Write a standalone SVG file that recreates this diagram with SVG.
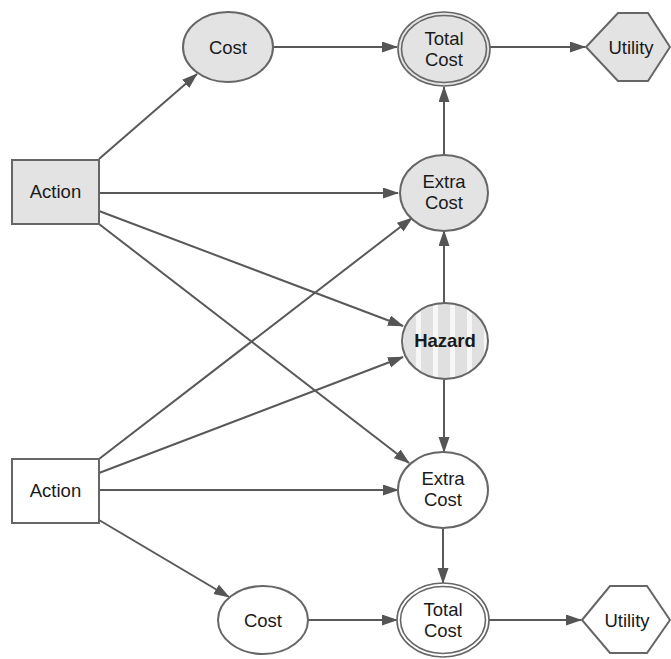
<svg xmlns="http://www.w3.org/2000/svg" width="671" height="659" viewBox="0 0 671 659">
  <defs>
    <marker id="arrow" markerUnits="userSpaceOnUse" markerWidth="17" markerHeight="12" refX="15" refY="5.5" orient="auto">
      <path d="M0,0 L16,5.5 L0,11 z" fill="#555555"/>
    </marker>
    <pattern id="stripes" patternUnits="userSpaceOnUse" x="404" y="0" width="17" height="10">
      <rect x="0" y="0" width="17" height="10" fill="#e0e0e0"/>
      <rect x="12" y="0" width="5" height="10" fill="#f7f7f7"/>
    </pattern>
    <style>
      .edge { stroke: #595959; stroke-width: 2; fill: none; marker-end: url(#arrow); }
      .shape { stroke: #666666; stroke-width: 2; }
      .thin { stroke: #666666; stroke-width: 1.6; }
      .filled { fill: #e3e3e3; }
      .plain { fill: #ffffff; }
      .label { font-family: "Liberation Sans", Arial, sans-serif; font-size: 18.5px; fill: #1a1a1a; text-anchor: middle; }
      .bold { font-weight: bold; }
    </style>
  </defs>
  <rect width="671" height="659" fill="#ffffff"/>

  <g id="connectors">
    <line class="edge" x1="99" y1="159" x2="197" y2="74"/>
    <line class="edge" x1="274" y1="47" x2="397" y2="47"/>
    <line class="edge" x1="490" y1="47" x2="585" y2="47"/>
    <line class="edge" x1="444" y1="155" x2="444" y2="87"/>
    <line class="edge" x1="99" y1="193" x2="398" y2="193"/>
    <line class="edge" x1="99" y1="211" x2="403" y2="326"/>
    <line class="edge" x1="99" y1="224" x2="409" y2="463"/>
    <line class="edge" x1="444" y1="303" x2="444" y2="231"/>
    <line class="edge" x1="444" y1="380" x2="444" y2="452"/>
    <line class="edge" x1="99" y1="459" x2="412" y2="218"/>
    <line class="edge" x1="99" y1="473" x2="403" y2="357"/>
    <line class="edge" x1="99" y1="490" x2="398" y2="490"/>
    <line class="edge" x1="99" y1="520" x2="229" y2="597"/>
    <line class="edge" x1="443" y1="528" x2="443" y2="583"/>
    <line class="edge" x1="308" y1="620" x2="397" y2="620"/>
    <line class="edge" x1="488" y1="620" x2="581" y2="620"/>
  </g>

  <g id="action-top">
    <rect class="shape filled" x="12" y="160" width="87" height="64"/>
    <text class="label" x="55.5" y="198">Action</text>
  </g>
  <g id="action-bottom">
    <rect class="shape plain" x="12" y="459" width="87" height="64"/>
    <text class="label" x="55.5" y="497">Action</text>
  </g>

  <g id="cost-top">
    <ellipse class="shape filled" cx="228" cy="47" rx="45" ry="35"/>
    <text class="label" x="228" y="54">Cost</text>
  </g>
  <g id="cost-bottom">
    <ellipse class="shape plain" cx="263" cy="620" rx="45" ry="34"/>
    <text class="label" x="263" y="627">Cost</text>
  </g>

  <g id="total-cost-top">
    <ellipse class="thin filled" cx="444" cy="49" rx="46" ry="37"/>
    <ellipse class="thin" fill="none" cx="444" cy="49" rx="42.5" ry="33.5"/>
    <text class="label" x="444" y="45">Total</text>
    <text class="label" x="444" y="66">Cost</text>
  </g>
  <g id="total-cost-bottom">
    <ellipse class="thin plain" cx="443" cy="620" rx="46" ry="37"/>
    <ellipse class="thin" fill="none" cx="443" cy="620" rx="42.5" ry="33.5"/>
    <text class="label" x="443" y="616">Total</text>
    <text class="label" x="443" y="637">Cost</text>
  </g>

  <g id="extra-cost-top">
    <ellipse class="shape filled" cx="444" cy="193" rx="44" ry="38"/>
    <text class="label" x="444" y="188">Extra</text>
    <text class="label" x="444" y="209">Cost</text>
  </g>
  <g id="extra-cost-bottom">
    <ellipse class="shape plain" cx="443" cy="490" rx="45" ry="38"/>
    <text class="label" x="443" y="485">Extra</text>
    <text class="label" x="443" y="506">Cost</text>
  </g>

  <g id="hazard">
    <ellipse class="shape" fill="url(#stripes)" cx="445" cy="341" rx="43" ry="38"/>
    <text class="label bold" x="445" y="347">Hazard</text>
  </g>

  <g id="utility-top">
    <polygon class="shape filled" points="586,47 618,13 648,13 670,47 648,81 618,81"/>
    <text class="label" x="631" y="54">Utility</text>
  </g>
  <g id="utility-bottom">
    <polygon class="shape plain" points="582,620 610,586 647,586 670,620 647,653 610,653"/>
    <text class="label" x="627" y="627">Utility</text>
  </g>
</svg>
